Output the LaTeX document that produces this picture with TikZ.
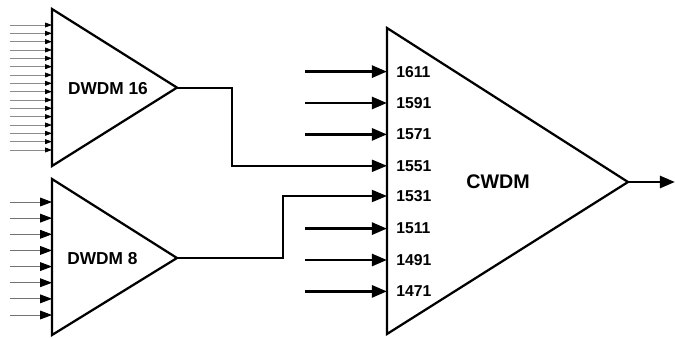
\documentclass[tikz,border=0pt]{standalone}
\usepackage{fontspec}
\setmainfont{Liberation Sans}
\usetikzlibrary{arrows.meta}

\begin{document}
\begin{tikzpicture}[x=1cm,y=1cm]
\tikzset{
  muxshape/.style={draw=black,line width=1.6pt,line join=miter},
  muxlabel/.style={font=\bfseries\fontsize{12.3}{13}\selectfont,inner sep=0pt},
  bandlabel/.style={font=\bfseries\fontsize{14}{15}\selectfont,inner sep=0pt},
  chlabel/.style={font=\bfseries\fontsize{11.2}{12}\selectfont,anchor=west,inner sep=0pt},
  thinfiber/.style={draw=black!45,line width=0.5pt,-{Triangle[length=1.7mm,width=1.2mm,color=black]}},
  midfiber/.style={draw=black!55,line width=0.6pt,-{Triangle[length=3mm,width=2.2mm,color=black]}},
  bigfiber/.style={draw=black,line width=2.1pt,-{Triangle[length=3.8mm,width=3mm]}},
  linkfiber/.style={draw=black,line width=1.5pt,-{Triangle[length=3.8mm,width=3mm]}}
}
\useasboundingbox (0,0) rectangle (16.875,-8.45);
% triangle corners
\coordinate (d16_top) at (1.30,-0.225);
\coordinate (d16_bot) at (1.30,-4.15);
\coordinate (d16_out) at (4.425,-2.19);
\coordinate (d8_top) at (1.30,-4.475);
\coordinate (d8_bot) at (1.30,-8.375);
\coordinate (d8_out) at (4.425,-6.45);
\coordinate (cw_top) at (9.675,-0.70);
\coordinate (cw_bot) at (9.675,-8.35);
\coordinate (cw_out) at (15.70,-4.55);
\coordinate (cw_end) at (16.875,-4.55);
\draw[muxshape] (d16_top) -- (d16_out) -- (d16_bot) -- cycle;
\draw[muxshape] (d8_top) -- (d8_out) -- (d8_bot) -- cycle;
\draw[muxshape] (cw_top) -- (cw_out) -- (cw_bot) -- cycle;
\node[muxlabel] (l_d16) at (2.70,-2.225) {DWDM 16};
\node[muxlabel] (l_d8) at (2.56,-6.475) {DWDM 8};
\node[bandlabel] (l_cw) at (12.45,-4.55) {CWDM};
% inputs of the dwdm filters
\foreach \i in {0,...,15} {
  \coordinate (d16_src\i) at (0.25,{-0.625-0.2083*\i});
  \coordinate (d16_in\i) at (1.30,{-0.625-0.2083*\i});
  \draw[thinfiber] (d16_src\i) -- (d16_in\i);
}
\foreach \i in {0,...,7} {
  \coordinate (d8_src\i) at (0.25,{-5.05-0.4036*\i});
  \coordinate (d8_in\i) at (1.30,{-5.05-0.4036*\i});
  \draw[midfiber] (d8_src\i) -- (d8_in\i);
}
% cwdm channels
\foreach \lam/\yy in {1611/-1.79,1591/-2.575,1571/-3.36,1551/-4.145,1531/-4.90,1511/-5.715,1491/-6.50,1471/-7.285} {
  \coordinate (cw_in\lam) at (9.675,\yy);
  \node[chlabel] (l_\lam) at (9.90,\yy) {\lam};
}
\foreach \lam/\yy in {1611/-1.79,1591/-2.575,1571/-3.36,1511/-5.715,1491/-6.50,1471/-7.285} {
  \coordinate (cw_src\lam) at (7.625,\yy);
  \draw[bigfiber] (cw_src\lam) -- (cw_in\lam);
}
\draw[linkfiber] (d16_out) -- ++(1.375,0) |- (cw_in1551);
\draw[linkfiber] (d8_out) -- ++(2.65,0) |- (cw_in1531);
\draw[bigfiber] (cw_out) -- (cw_end);
\end{tikzpicture}
\end{document}
